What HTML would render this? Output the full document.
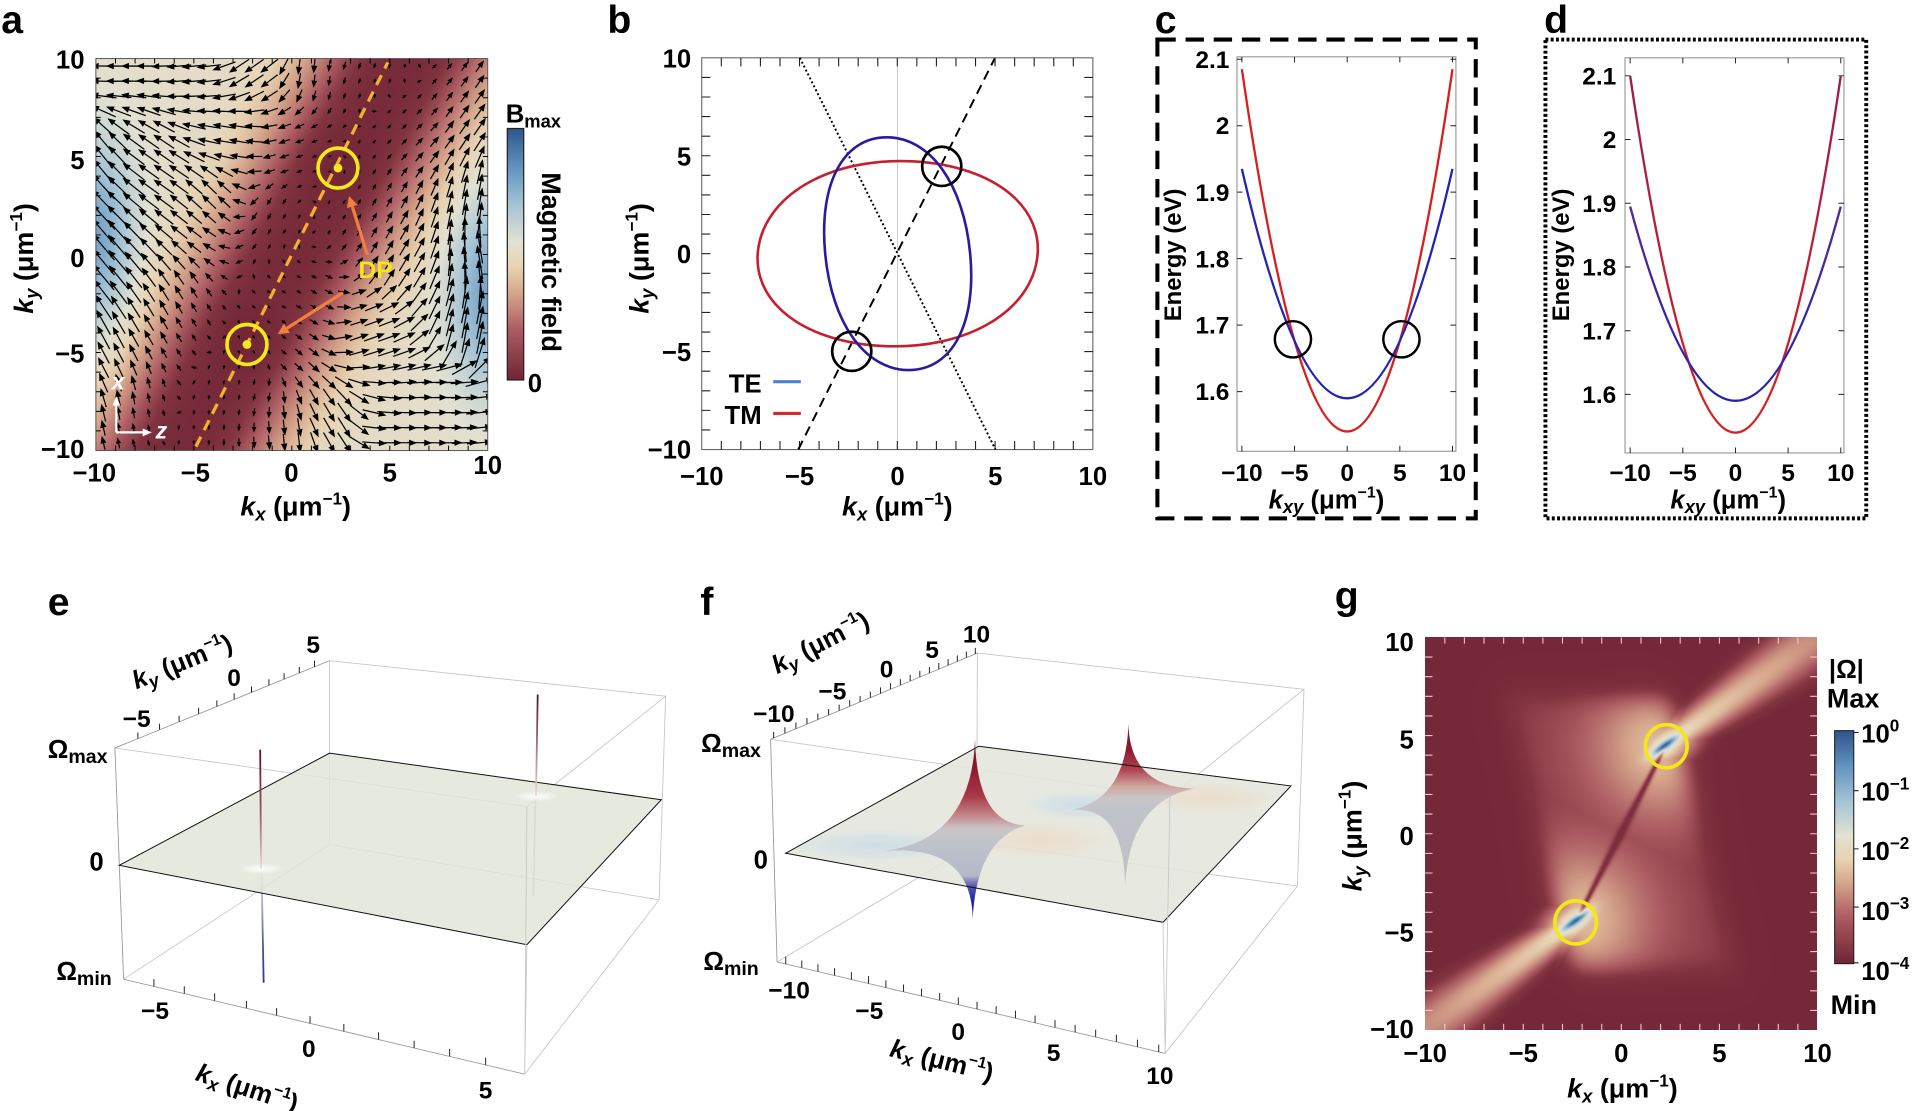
<!DOCTYPE html>
<html><head><meta charset="utf-8">
<style>
html,body{margin:0;padding:0;background:#fff;}
#wrap{position:relative;width:1920px;height:1111px;overflow:hidden;background:#fff;}
canvas{position:absolute;display:block;}
#cva{left:95.9px;top:58.5px;width:391.8px;height:391.8px;background:linear-gradient(120deg,#d8d2c0 0%,#d6ab92 25%,#8a3444 42%,#7a2a3a 50%,#8a3444 58%,#d6ab92 75%,#d8d2c0 100%);}
#cvg{left:1425.2px;top:637.2px;width:392.3px;height:392.5px;background:#74283a;}
svg{position:absolute;left:0;top:0;}
text{font-family:"Liberation Sans",Arial,sans-serif;font-weight:bold;fill:#000;}
.it{font-style:italic;}
</style></head><body><div id="wrap">
<canvas id="cva" width="392" height="392"></canvas>
<canvas id="cvg" width="392" height="392"></canvas>
<svg width="1920" height="1111" viewBox="0 0 1568 907" preserveAspectRatio="none">
<defs>
<linearGradient id="cbar" x1="0" y1="0" x2="0" y2="1">
<stop offset="0" stop-color="#2d558c"/><stop offset="0.15" stop-color="#6091be"/><stop offset="0.3" stop-color="#a2c3d6"/><stop offset="0.45" stop-color="#e2e1d2"/><stop offset="0.55" stop-color="#e7d4b2"/><stop offset="0.65" stop-color="#d6a88c"/><stop offset="0.8" stop-color="#ac5c62"/><stop offset="1" stop-color="#702434"/>
</linearGradient>
<clipPath id="clipA"><rect x="78.3" y="47.8" width="320" height="320"/></clipPath>
<linearGradient id="sp1a" gradientUnits="userSpaceOnUse" x1="0" y1="520" x2="0" y2="865"><stop offset="0" stop-color="#5e1424"/><stop offset="0.5" stop-color="#a04a58"/><stop offset="1" stop-color="#eadfd0"/></linearGradient>
<linearGradient id="sp1b" gradientUnits="userSpaceOnUse" x1="0" y1="865" x2="0" y2="1195"><stop offset="0" stop-color="#e6e6e6"/><stop offset="0.3" stop-color="#a8aec8"/><stop offset="0.7" stop-color="#4a52a0"/><stop offset="1" stop-color="#33358e"/></linearGradient>
<linearGradient id="sp2a" gradientUnits="userSpaceOnUse" x1="0" y1="360" x2="0" y2="655"><stop offset="0" stop-color="#4e1a2a"/><stop offset="0.6" stop-color="#b8868e"/><stop offset="1" stop-color="#e6e2dc"/></linearGradient>
<radialGradient id="glow"><stop offset="0" stop-color="#fff" stop-opacity="1"/><stop offset="1" stop-color="#fff" stop-opacity="0"/></radialGradient>
<radialGradient id="tblue"><stop offset="0" stop-color="#bcd6ec" stop-opacity="0.6"/><stop offset="0.6" stop-color="#bcd6ec" stop-opacity="0.3"/><stop offset="1" stop-color="#bcd6ec" stop-opacity="0"/></radialGradient>
<radialGradient id="tpeach"><stop offset="0" stop-color="#eed2bc" stop-opacity="0.55"/><stop offset="0.6" stop-color="#eed2bc" stop-opacity="0.28"/><stop offset="1" stop-color="#eed2bc" stop-opacity="0"/></radialGradient>
<linearGradient id="cusp1" gradientUnits="userSpaceOnUse" x1="0" y1="385" x2="0" y2="925">
<stop offset="0" stop-color="#7a1226"/><stop offset="0.16" stop-color="#8c1a2e"/><stop offset="0.32" stop-color="#a8384a"/><stop offset="0.43" stop-color="#c28a8c"/><stop offset="0.5" stop-color="#cac4c6"/><stop offset="0.58" stop-color="#c0c3ca"/><stop offset="0.76" stop-color="#b4b8c9"/><stop offset="0.82" stop-color="#5656b0"/><stop offset="0.9" stop-color="#2222a0"/><stop offset="1" stop-color="#1a1a8c"/></linearGradient>
<linearGradient id="cusp2" gradientUnits="userSpaceOnUse" x1="0" y1="340" x2="0" y2="835">
<stop offset="0" stop-color="#7a1226"/><stop offset="0.16" stop-color="#8c1a2e"/><stop offset="0.28" stop-color="#b04452"/><stop offset="0.38" stop-color="#cfa6a0"/><stop offset="0.45" stop-color="#c9c6c8"/><stop offset="0.52" stop-color="#c0c3c9"/><stop offset="0.92" stop-color="#bec1c6"/><stop offset="1" stop-color="#d6d8da"/></linearGradient>
<linearGradient id="dred" gradientUnits="userSpaceOnUse" x1="0" y1="60" x2="0" y2="330"><stop offset="0" stop-color="#9a1e52"/><stop offset="1" stop-color="#d42222"/></linearGradient>
<linearGradient id="dblue" gradientUnits="userSpaceOnUse" x1="0" y1="160" x2="0" y2="330"><stop offset="0" stop-color="#5a2898"/><stop offset="1" stop-color="#2424b0"/></linearGradient>
</defs>

<!-- ============ PANEL A ============ -->
<text x="1" y="27" font-size="32">a</text>
<g clip-path="url(#clipA)">
<path id="arrL" stroke="#000" stroke-width="1" fill="none"/>
<path id="arrH" fill="#000" stroke="none"/>
</g>
<rect x="78.3" y="47.8" width="320" height="320" fill="none" stroke="#555" stroke-width="0.8"/>
<path id="ticksA" stroke="#000" stroke-width="0.8" fill="none"/>
<line x1="160" y1="364.6" x2="316.7" y2="51" stroke="#f2b22c" stroke-width="2.6" stroke-dasharray="9 6"/>
<circle cx="276" cy="137.2" r="16.3" fill="none" stroke="#f4e81c" stroke-width="3"/>
<circle cx="201.7" cy="281.2" r="16.3" fill="none" stroke="#f4e81c" stroke-width="3"/>
<circle cx="276" cy="137.2" r="3.6" fill="#f4e81c"/>
<circle cx="201.7" cy="281.2" r="3.6" fill="#f4e81c"/>
<line x1="300" y1="208" x2="287.7" y2="168.6" stroke="#f0803c" stroke-width="2.6"/>
<polygon points="285,160 292,167.3 283.4,169.9" fill="#f0803c"/>
<line x1="280" y1="239" x2="234.3" y2="268" stroke="#f0803c" stroke-width="2.6"/>
<polygon points="226.7,272.8 236.7,271.8 231.9,264.2" fill="#f0803c"/>
<text x="306.7" y="227" font-size="20" text-anchor="middle" style="fill:#f5e61a">DP</text>
<line x1="95" y1="353" x2="95" y2="330" stroke="#fff" stroke-width="1.8"/>
<polygon points="95,323.5 91.8,331 98.2,331" fill="#fff"/>
<line x1="95" y1="353" x2="117" y2="353" stroke="#fff" stroke-width="1.8"/>
<polygon points="124,353 116.5,349.8 116.5,356.2" fill="#fff"/>
<text x="96.5" y="318" font-size="19" text-anchor="middle" class="it" style="fill:#fff">x</text>
<text x="131.7" y="358" font-size="19" text-anchor="middle" class="it" style="fill:#fff">z</text>
<g font-size="21" text-anchor="end">
<text x="69" y="56">10</text><text x="69" y="138">5</text><text x="69" y="218">0</text><text x="69" y="296">−5</text><text x="69" y="374">−10</text>
</g>
<g font-size="21" text-anchor="middle">
<text x="77" y="393">−10</text><text x="159.5" y="393">−5</text><text x="238" y="393">0</text><text x="318.3" y="393">5</text><text x="398.3" y="387">10</text>
</g>
<text x="241.5" y="421" font-size="22" text-anchor="middle"><tspan class="it">k</tspan><tspan class="it" font-size="15" dy="4">x</tspan><tspan dy="-4"> (μm</tspan><tspan font-size="14" dy="-9">−1</tspan><tspan dy="9">)</tspan></text>
<text transform="translate(27,211) rotate(-90)" font-size="22" text-anchor="middle"><tspan class="it">k</tspan><tspan class="it" font-size="15" dy="4">y</tspan><tspan dy="-4"> (μm</tspan><tspan font-size="14" dy="-9">−1</tspan><tspan dy="9">)</tspan></text>
<rect x="414.3" y="104.9" width="13.4" height="205.3" fill="url(#cbar)" stroke="#222" stroke-width="1"/>
<text x="413" y="100" font-size="21">B<tspan font-size="15" dy="4">max</tspan></text>
<text transform="translate(442.5,214) rotate(90)" font-size="22" text-anchor="middle">Magnetic field</text>
<text x="431" y="320" font-size="21">0</text>

<!-- ============ PANEL B ============ -->
<text x="496" y="27" font-size="32">b</text>
<line x1="733" y1="47.2" x2="733" y2="367" stroke="#c4c4c4" stroke-width="0.7"/>
<rect x="573.1" y="47.2" width="319.4" height="319.8" fill="none" stroke="#666" stroke-width="0.9"/>
<path id="ticksB" stroke="#222" stroke-width="0.9" fill="none"/>
<line x1="651.9" y1="367" x2="812.3" y2="47.8" stroke="#000" stroke-width="1.6" stroke-dasharray="8 5"/>
<line x1="653.2" y1="47.2" x2="813" y2="367" stroke="#000" stroke-width="1.6" stroke-dasharray="1.6 2"/>
<path d="M1,0 C1,0.58 0.58,1 0,1 C-0.58,1 -1,0.58 -1,0 C-1,-0.58 -0.58,-1 0,-1 C0.58,-1 1,-0.58 1,0 Z" fill="none" stroke="#c42030" stroke-width="2.6" vector-effect="non-scaling-stroke" transform="matrix(113.5,6.40,13.57,-75.3,733.1,207.1)"/>
<path d="M1,0 C1,0.6 0.6,1 0,1 C-0.6,1 -1,0.6 -1,0 C-1,-0.6 -0.6,-1 0,-1 C0.6,-1 1,-0.6 1,0 Z" fill="none" stroke="#2a1aa0" stroke-width="2.6" vector-effect="non-scaling-stroke" transform="matrix(59.2,0,-9,-95,733.1,207.1)"/>
<circle cx="769.1" cy="135.8" r="16" fill="none" stroke="#000" stroke-width="2.2"/>
<circle cx="695.6" cy="286.8" r="16" fill="none" stroke="#000" stroke-width="2.2"/>
<text x="622" y="320.6" font-size="21" text-anchor="end">TE</text>
<text x="622" y="346" font-size="21" text-anchor="end">TM</text>
<line x1="631.5" y1="311.6" x2="654" y2="311.6" stroke="#4f7fd0" stroke-width="2.6"/>
<line x1="631.5" y1="337.5" x2="654" y2="337.5" stroke="#d42a2a" stroke-width="2.6"/>
<g font-size="21" text-anchor="end">
<text x="564.5" y="55">10</text><text x="564.5" y="135">5</text><text x="564.5" y="214.6">0</text><text x="564.5" y="294.6">−5</text><text x="564.5" y="374.5">−10</text>
</g>
<g font-size="21" text-anchor="middle">
<text x="573.1" y="396">−10</text><text x="653" y="396">−5</text><text x="733" y="396">0</text><text x="812.8" y="396">5</text><text x="892.5" y="396">10</text>
</g>
<text x="732.8" y="421" font-size="22" text-anchor="middle"><tspan class="it">k</tspan><tspan class="it" font-size="15" dy="4">x</tspan><tspan dy="-4"> (μm</tspan><tspan font-size="14" dy="-9">−1</tspan><tspan dy="9">)</tspan></text>
<text transform="translate(529.5,211) rotate(-90)" font-size="22" text-anchor="middle"><tspan class="it">k</tspan><tspan class="it" font-size="15" dy="4">y</tspan><tspan dy="-4"> (μm</tspan><tspan font-size="14" dy="-9">−1</tspan><tspan dy="9">)</tspan></text>

<!-- ============ PANEL C ============ -->
<text x="943" y="27" font-size="32">c</text>
<rect x="945.2" y="32.3" width="260" height="390.9" fill="none" stroke="#000" stroke-width="3.3" stroke-dasharray="15 8"/>
<rect x="1010.2" y="46.4" width="178.8" height="322" fill="none" stroke="#888" stroke-width="0.8"/>
<path id="ticksC" stroke="#222" stroke-width="0.8" fill="none"/>
<path d="M1014.2,56.5 Q1100.2,648 1186.2,56.5" fill="none" stroke="#d42222" stroke-width="1.9"/>
<path d="M1014.2,137.9 Q1100.2,512.4 1186.2,137.9" fill="none" stroke="#2424b0" stroke-width="1.9"/>
<circle cx="1055.9" cy="277" r="14.8" fill="none" stroke="#000" stroke-width="2"/>
<circle cx="1144.5" cy="277" r="14.8" fill="none" stroke="#000" stroke-width="2"/>
<g font-size="20" text-anchor="end">
<text x="1004" y="55.4">2.1</text><text x="1004" y="109.6">2</text><text x="1004" y="163.9">1.9</text><text x="1004" y="218.2">1.8</text><text x="1004" y="272.4">1.7</text><text x="1004" y="326.7">1.6</text>
</g>
<g font-size="20" text-anchor="middle">
<text x="1014.2" y="392.5">−10</text><text x="1057.2" y="392.5">−5</text><text x="1100.2" y="392.5">0</text><text x="1143.2" y="392.5">5</text><text x="1186.2" y="392.5">10</text>
</g>
<text x="1083.3" y="415" font-size="21" text-anchor="middle"><tspan class="it">k</tspan><tspan class="it" font-size="15" dy="4">xy</tspan><tspan dy="-4"> (μm</tspan><tspan font-size="13" dy="-9">−1</tspan><tspan dy="9">)</tspan></text>
<text transform="translate(964.4,208.1) rotate(-90)" font-size="19.5" text-anchor="middle">Energy (eV)</text>

<!-- ============ PANEL D ============ -->
<text x="1261" y="27" font-size="32">d</text>
<rect x="1262.1" y="32.3" width="262" height="390.9" fill="none" stroke="#000" stroke-width="3.2" stroke-dasharray="2.4 1.9"/>
<rect x="1327.1" y="47.2" width="178.8" height="322.6" fill="none" stroke="#888" stroke-width="0.8"/>
<path id="ticksD" stroke="#222" stroke-width="0.8" fill="none"/>
<path d="M1331.3,62 Q1417.3,644.4 1503.3,62" fill="none" stroke="url(#dred)" stroke-width="1.9"/>
<path d="M1331.3,168.6 Q1417.3,485.8 1503.3,168.6" fill="none" stroke="url(#dblue)" stroke-width="1.9"/>
<g font-size="20" text-anchor="end">
<text x="1320" y="69">2.1</text><text x="1320" y="121">2</text><text x="1320" y="173">1.9</text><text x="1320" y="225">1.8</text><text x="1320" y="277">1.7</text><text x="1320" y="329">1.6</text>
</g>
<g font-size="20" text-anchor="middle">
<text x="1331.3" y="392.5">−10</text><text x="1374.3" y="392.5">−5</text><text x="1417.3" y="392.5">0</text><text x="1460.3" y="392.5">5</text><text x="1503.3" y="392.5">10</text>
</g>
<text x="1411.4" y="415" font-size="21" text-anchor="middle"><tspan class="it">k</tspan><tspan class="it" font-size="15" dy="4">xy</tspan><tspan dy="-4"> (μm</tspan><tspan font-size="13" dy="-9">−1</tspan><tspan dy="9">)</tspan></text>
<text transform="translate(1281.3,208.1) rotate(-90)" font-size="19.5" text-anchor="middle">Energy (eV)</text>

<!-- ============ PANEL E ============ -->
<text x="39" y="502" font-size="32">e</text>
<g transform="translate(0,465.5) scale(0.35414,0.28180)">
<path d="M760,262 L1535,365 L1215,685 L265,515 M285,1185 L760,795 L1520,955 L1210,1460 M760,262 L760,795 M1535,365 L1520,955" stroke="#c8c8c8" stroke-width="0.9" fill="none" vector-effect="non-scaling-stroke"/>
<path d="M265,515 L760,262 M285,1185 L1210,1460 M265,515 L285,1185" stroke="#9a9a9a" stroke-width="0.9" fill="none" vector-effect="non-scaling-stroke"/>
<line x1="603" y1="865" x2="608" y2="1195" stroke="url(#sp1b)" stroke-width="1.8" vector-effect="non-scaling-stroke"/>
<line x1="1235" y1="655" x2="1230" y2="945" stroke="#b8bcc0" stroke-width="1.6" vector-effect="non-scaling-stroke"/>
<polygon points="275,855 760,530 1525,665 1215,1085" fill="#dfe4d7" fill-opacity="0.82" stroke="#111" stroke-width="1" vector-effect="non-scaling-stroke"/>
<ellipse cx="602" cy="865" rx="55" ry="16" fill="url(#glow)"/>
<ellipse cx="1237" cy="655" rx="55" ry="16" fill="url(#glow)"/>
<line x1="600" y1="520" x2="602" y2="865" stroke="url(#sp1a)" stroke-width="1.8" vector-effect="non-scaling-stroke"/>
<line x1="1240" y1="360" x2="1236" y2="655" stroke="url(#sp2a)" stroke-width="1.8" vector-effect="non-scaling-stroke"/>
<path d="M1215,685 L1210,1460 M1215,1085 L1210,1460" stroke="#c8c8c8" stroke-width="0.9" fill="none" vector-effect="non-scaling-stroke"/>
</g>
<path id="ticksE" stroke="#222" stroke-width="0.8" fill="none"/>
<text x="39" y="619" font-size="21">Ω<tspan font-size="16" dy="4">max</tspan></text>
<text x="78.8" y="710.7" font-size="21" text-anchor="middle">0</text>
<text x="46" y="800" font-size="21">Ω<tspan font-size="16" dy="4">min</tspan></text>
<g font-size="20" text-anchor="middle">
<text x="111.6" y="593.7">−5</text><text x="191.2" y="560">0</text><text x="255.8" y="533">5</text>
<text x="126.6" y="832">−5</text><text x="252.2" y="863">0</text><text x="396.6" y="897">5</text>
</g>
<text transform="translate(148.7,540.2) rotate(-22)" font-size="21" text-anchor="middle"><tspan class="it" dy="7">k</tspan><tspan class="it" font-size="15" dy="4">y</tspan><tspan dy="-4"> (μm</tspan><tspan font-size="13" dy="-9">−1</tspan><tspan dy="9">)</tspan></text>
<text transform="translate(201.9,888.2) rotate(18)" font-size="21" text-anchor="middle"><tspan class="it" dy="7">k</tspan><tspan class="it" font-size="15" dy="4">x</tspan><tspan dy="-4"> (μm</tspan><tspan font-size="13" dy="-9">−1</tspan><tspan dy="9">)</tspan></text>

<!-- ============ PANEL F ============ -->
<text x="572" y="502" font-size="32">f</text>
<g transform="translate(539,465.5) scale(0.35414,0.28180)">
<path d="M732,240 L1485,345 L1176,657 L255,490 M270,1135 L730,790 L1470,915 L1165,1400 M732,240 L730,790 M1485,345 L1470,915" stroke="#c8c8c8" stroke-width="0.9" fill="none" vector-effect="non-scaling-stroke"/>
<path d="M255,490 L732,240 M270,1135 L1165,1400 M255,490 L270,1135" stroke="#9a9a9a" stroke-width="0.9" fill="none" vector-effect="non-scaling-stroke"/>
<polygon points="290,820 735,510 1455,625 1160,1020" fill="#e4e6dc" fill-opacity="0.88"/>
</g>
<g transform="translate(669.7,498.2) scale(0.27222)">
<ellipse cx="790" cy="585" rx="190" ry="45" fill="url(#tblue)"/>
<ellipse cx="170" cy="705" rx="260" ry="50" fill="url(#tblue)"/>
<ellipse cx="660" cy="690" rx="230" ry="55" fill="url(#tpeach)"/>
<ellipse cx="1170" cy="565" rx="200" ry="50" fill="url(#tpeach)"/>
<path d="M465,385 Q470,640 615,645 Q470,690 458,925 Q455,700 190,722 Q455,690 465,385 Z" fill="url(#cusp1)"/>
<path d="M925,340 Q930,530 1120,535 Q925,575 915,835 Q915,590 760,598 Q920,560 925,340 Z" fill="url(#cusp2)"/>
</g>
<g transform="translate(539,465.5) scale(0.35414,0.28180)">
<polygon points="290,820 735,510 1455,625 1160,1020" fill="none" stroke="#111" stroke-width="1" vector-effect="non-scaling-stroke"/>
<path d="M1176,657 L1165,1400 M1160,1020 L1165,1400" stroke="#c8c8c8" stroke-width="0.9" fill="none" vector-effect="non-scaling-stroke"/>
</g>
<path id="ticksF" stroke="#222" stroke-width="0.8" fill="none"/>
<text x="572.6" y="614" font-size="21">Ω<tspan font-size="16" dy="4">max</tspan></text>
<text x="621.3" y="709" font-size="21" text-anchor="middle">0</text>
<text x="574.4" y="792" font-size="21">Ω<tspan font-size="16" dy="4">min</tspan></text>
<g font-size="20" text-anchor="middle">
<text x="632" y="589.5">−10</text><text x="679.8" y="571">−5</text><text x="724" y="553">0</text><text x="761.2" y="537">5</text><text x="797.5" y="524.7">10</text>
<text x="644.4" y="815">−10</text><text x="709.9" y="832">−5</text><text x="782.5" y="849">0</text><text x="860.4" y="866">5</text><text x="947.2" y="885">10</text>
</g>
<text transform="translate(670,524.7) rotate(-27)" font-size="21" text-anchor="middle"><tspan class="it" dy="7">k</tspan><tspan class="it" font-size="15" dy="4">y</tspan><tspan dy="-4"> (μm</tspan><tspan font-size="13" dy="-9">−1</tspan><tspan dy="9">)</tspan></text>
<text transform="translate(769.2,865.7) rotate(14)" font-size="21" text-anchor="middle"><tspan class="it" dy="7">k</tspan><tspan class="it" font-size="15" dy="4">x</tspan><tspan dy="-4"> (μm</tspan><tspan font-size="13" dy="-9">−1</tspan><tspan dy="9">)</tspan></text>

<!-- ============ PANEL G ============ -->
<text x="1090" y="497" font-size="32">g</text>
<path id="ticksG" stroke="#f2c6c6" stroke-width="0.9" fill="none"/>
<ellipse cx="1360.8" cy="609.2" rx="17" ry="17.6" fill="none" stroke="#f5e61a" stroke-width="3"/>
<ellipse cx="1286.8" cy="753" rx="17" ry="17.6" fill="none" stroke="#f5e61a" stroke-width="3"/>
<g font-size="21" text-anchor="end">
<text x="1154.6" y="531.5">10</text><text x="1154.6" y="611">5</text><text x="1154.6" y="690">0</text><text x="1154.6" y="768.5">−5</text><text x="1154.6" y="847.5">−10</text>
</g>
<g font-size="21" text-anchor="middle">
<text x="1163.9" y="867">−10</text><text x="1244" y="867">−5</text><text x="1324.1" y="867">0</text><text x="1404.2" y="867">5</text><text x="1484.3" y="867">10</text>
</g>
<text x="1325" y="896" font-size="22" text-anchor="middle"><tspan class="it">k</tspan><tspan class="it" font-size="15" dy="4">x</tspan><tspan dy="-4"> (μm</tspan><tspan font-size="14" dy="-9">−1</tspan><tspan dy="9">)</tspan></text>
<text transform="translate(1112,682.5) rotate(-90)" font-size="22" text-anchor="middle"><tspan class="it">k</tspan><tspan class="it" font-size="15" dy="4">y</tspan><tspan dy="-4"> (μm</tspan><tspan font-size="14" dy="-9">−1</tspan><tspan dy="9">)</tspan></text>
<rect x="1498.3" y="596.5" width="15.6" height="190.2" fill="url(#cbar)" stroke="#222" stroke-width="0.9"/>
<path d="M1513.9,598 h4 M1513.9,645.5 h4 M1513.9,693 h4 M1513.9,740.5 h4 M1513.9,786 h4" stroke="#222" stroke-width="0.9"/>
<text x="1493.6" y="553.5" font-size="21">|Ω|</text>
<text x="1492" y="577.5" font-size="22">Max</text>
<text x="1495" y="828" font-size="22">Min</text>
<g font-size="21">
<text x="1520" y="606">10<tspan font-size="14" dy="-9">0</tspan></text>
<text x="1520" y="653.5">10<tspan font-size="14" dy="-9">−1</tspan></text>
<text x="1520" y="702">10<tspan font-size="14" dy="-9">−2</tspan></text>
<text x="1520" y="751">10<tspan font-size="14" dy="-9">−3</tspan></text>
<text x="1520" y="800">10<tspan font-size="14" dy="-9">−4</tspan></text>
</g>
</svg>
</div>
<script>
(function(){
var ST=[[0,112,36,52],[0.1,130,52,64],[0.2,172,92,98],[0.35,214,166,140],[0.45,231,210,178],[0.55,226,225,210],[0.7,162,195,214],[0.85,96,145,190],[1,45,85,140]];
function cmap(t){if(t<0)t=0;if(t>1)t=1;for(var i=1;i<ST.length;i++){if(t<=ST[i][0]){var a=ST[i-1],b=ST[i],f=(t-a[0])/(b[0]-a[0]);return[a[1]+(b[1]-a[1])*f,a[2]+(b[2]-a[2])*f,a[3]+(b[3]-a[3])*f];}}return[45,85,140];}
function Ma(kx,ky){
 var h=kx-ky/1.75;
 var q=Math.pow(Math.abs(h)/5,2.5);
 var m=0.04+0.48*(1-Math.exp(-q));
 m+=0.27*Math.exp(-Math.pow((kx+10)/2.0,2)-Math.pow((ky-1)/5,2));
 m+=0.27*Math.exp(-Math.pow((kx-10)/2.0,2)-Math.pow((ky+2)/5,2));
 var r1=(kx-2.35)*(kx-2.35)+(ky-4.45)*(ky-4.45),r2=(kx+2.3)*(kx+2.3)+(ky+4.55)*(ky+4.55);
 m*=(1-0.55*Math.exp(-r1/2.5))*(1-0.55*Math.exp(-r2/2.5));
 return m;}
function sig(x){return 1/(1+Math.exp(-x));}
function Lg(kx,ky){
 var xL=-2.9-0.236*(ky+5.3),xR=2.9-0.236*(ky-5.3);
 var R=sig((kx-xL)/0.4)*sig((xR-kx)/0.4)*sig((7.05-ky)/0.4)*sig((ky+7.05)/0.4);
 var d1=Math.sqrt((kx-2.25)*(kx-2.25)+(ky-4.49)*(ky-4.49)),d2=Math.sqrt((kx+2.33)*(kx+2.33)+(ky+4.45)*(ky+4.45)),dd=Math.min(d1,d2);
 var L=0.03+R*(0.1+0.28*Math.exp(-dd*dd/(2*2.6*2.6)));
 var dps=[[2.25,4.49,1],[-2.33,-4.45,-1]],ux=0.815,uy=0.579,i,dx,dy,t,dp,S,G,w;
 for(i=0;i<2;i++){dx=kx-dps[i][0];dy=ky-dps[i][1];t=dps[i][2]*(dx*ux+dy*uy);dp=Math.abs(dx*uy-dy*ux);
  if(t>0){w=0.5+0.065*t;S=(0.48-0.019*t)*Math.exp(-dp*dp/(2*w*w));}else{S=0.48*Math.exp(-t*t/(2*0.64)-dp*dp/(2*0.3));}
  G=0.48*Math.exp(-t*t/(2*2.56)-dp*dp/(2*0.81));
  L=Math.max(L,S,G);}
 var vx=0.455,vy=0.891,sl=kx*vx+ky*vy,dl=Math.abs(kx*vy-ky*vx);
 if(Math.abs(sl)<4.9){var sg=0.07+0.09*(1-Math.abs(sl)/4.9);var f=0.85*Math.exp(-dl*dl/(2*sg*sg));L=L*(1-f)+0.03*f;}
 for(i=0;i<2;i++){dx=kx-dps[i][0];dy=ky-dps[i][1];t=dx*ux+dy*uy;dp=Math.abs(dx*uy-dy*ux);
  var H=Math.exp(-Math.pow(t/0.9,2)-Math.pow(dp/0.32,2));L=L*(1-H)+0.68*H;
  var C=Math.exp(-Math.pow(t/0.6,2)-Math.pow(dp/0.12,2));L=L*(1-C)+0.97*C;}
 return L;}
function draw(id,fn){var cv=document.getElementById(id);if(!cv.getContext)return;var ctx=cv.getContext('2d'),W=cv.width,H=cv.height,img=ctx.createImageData(W,H),dd=img.data;
 for(var j=0;j<H;j++){var ky=10-20*(j+0.5)/H;for(var i=0;i<W;i++){var kx=-10+20*(i+0.5)/W;var c=cmap(fn(kx,ky));var o=4*(j*W+i);dd[o]=c[0];dd[o+1]=c[1];dd[o+2]=c[2];dd[o+3]=255;}}
 ctx.putImageData(img,0,0);}
try{draw('cva',Ma);}catch(e){}
try{draw('cvg',Lg);}catch(e){}
var SM=[[-10,0,130],[-10,5,128],[-10,-5,118],[-9,9.5,180],[-5,9.5,185],[-2,9.5,215],[1,9.5,265],[4,9.5,250],
[-7,5,145],[-4,3,135],[-6,-3,120],[-8,-8,100],[-4,-9.5,270],[0,-9.5,275],[-2,-7,255],
[6,6.5,45],[9,7,55],[10,3,80],[10,0,100],[9,-4,80],[5,0,60],[4,-4,20],[8,-7,0],[5,-9.5,0],[2,-9,300],
[0,5,200],[-1,2,240],[1,-2,330],[0,-5,320],[3,2,60],[-3,6,170]];
function dirA(kx,ky){var sx=0,sy=0;for(var k=0;k<SM.length;k++){var dx=kx-SM[k][0],dy=ky-SM[k][1];var w=1/Math.pow(dx*dx+dy*dy+0.3,1.5);var a=SM[k][2]*Math.PI/180;sx+=w*Math.cos(a);sy+=w*Math.sin(a);}return Math.atan2(sy,sx);}
var dl='',dh='';
for(var j=0;j<26;j++)for(var i=0;i<26;i++){
 var px=78.3+6.15+i*12.3,py=47.8+6.15+j*12.3;var kx=(px-78.3)/16-10,ky=10-(py-47.8)/16;
 var M=Ma(kx,ky);var L=4+34*(M-0.04);if(L<2.5)L=2.5;if(L>28)L=28;
 var th=dirA(kx,ky);var ux=Math.cos(th),uy=-Math.sin(th);
 var tx=px-ux*L/2,ty=py-uy*L/2,hx=px+ux*L/2,hy=py+uy*L/2;
 var h=Math.min(6.5,0.4*L+1.5),hw=h*0.4;var bx=hx-ux*h,by=hy-uy*h;
 dl+='M'+tx.toFixed(1)+','+ty.toFixed(1)+'L'+bx.toFixed(1)+','+by.toFixed(1);
 dh+='M'+hx.toFixed(1)+','+hy.toFixed(1)+'L'+(bx-uy*hw).toFixed(1)+','+(by+ux*hw).toFixed(1)+'L'+(bx+uy*hw).toFixed(1)+','+(by-ux*hw).toFixed(1)+'Z';}
document.getElementById('arrL').setAttribute('d',dl);
document.getElementById('arrH').setAttribute('d',dh);
var s='',v,x,y;
for(v=-9;v<=9;v++){x=78.3+(v+10)*16;y=367.8-(v+10)*16;s+='M'+x+',47.8v4M'+x+',367.8v-4M78.3,'+y+'h4M398.3,'+y+'h-4';}
document.getElementById('ticksA').setAttribute('d',s);
s='';for(v=-9;v<=9;v++){x=573.1+(v+10)*15.97;y=367-(v+10)*15.99;s+='M'+x+',47.2v7M'+x+',367v-7M573.1,'+y+'h7M892.5,'+y+'h-7';}
document.getElementById('ticksB').setAttribute('d',s);
s='';for(v=-10;v<=10;v+=5){x=1100.2+8.6*v;s+='M'+x+',46.4v4.5M'+x+',368.4v-4.5';}
for(v=0;v<=5;v++){y=319.7-v*54.27;s+='M1010.2,'+y+'h4.5M1189,'+y+'h-4.5';}
document.getElementById('ticksC').setAttribute('d',s);
s='';for(v=-10;v<=10;v+=5){x=1417.3+8.6*v;s+='M'+x+',47.2v4.5M'+x+',369.8v-4.5';}
for(v=0;v<=5;v++){y=322-v*52.02;s+='M1327.1,'+y+'h4.5M1505.9,'+y+'h-4.5';}
document.getElementById('ticksD').setAttribute('d',s);
s='';for(v=-9;v<=9;v++){x=1163.9+(v+10)*16.02;y=840.9-(v+10)*16.025;s+='M'+x+',520.4v5M'+x+',840.9v-5M1163.9,'+y+'h6M1484.3,'+y+'h-6';}
document.getElementById('ticksG').setAttribute('d',s);
function e2p(zx,zy){return[zx/2.8237,465.5+zy/3.5486];}
function f2p(zx,zy){return[539+zx/2.8237,465.5+zy/3.5486];}
s='';var kyx=[318,368,413,458,500,540,580,620,655,690,725],k,p;
for(k=0;k<kyx.length;k++){p=e2p(kyx[k],515-(kyx[k]-265)*0.5111);s+='M'+p[0].toFixed(1)+','+p[1].toFixed(1)+'v-5';}
var kxx=[355,425,495,568,638,715,793,873,955,1037,1120];
for(k=0;k<kxx.length;k++){p=e2p(kxx[k],1185+(kxx[k]-285)*0.2973);s+='M'+p[0].toFixed(1)+','+p[1].toFixed(1)+'v-6';}
document.getElementById('ticksE').setAttribute('d',s);
s='';
for(k=0;k<=20;k++){var t=k/20;var zx=262+465*(1.12*t-0.12*t*t);p=f2p(zx,490-(zx-255)*0.5241);s+='M'+p[0].toFixed(1)+','+p[1].toFixed(1)+'v-5';
 zx=290+860*(0.85*t+0.15*t*t);p=f2p(zx,1135+(zx-270)*0.2961);s+='M'+p[0].toFixed(1)+','+p[1].toFixed(1)+'v-6';}
document.getElementById('ticksF').setAttribute('d',s);
})();
</script>
</body></html>
